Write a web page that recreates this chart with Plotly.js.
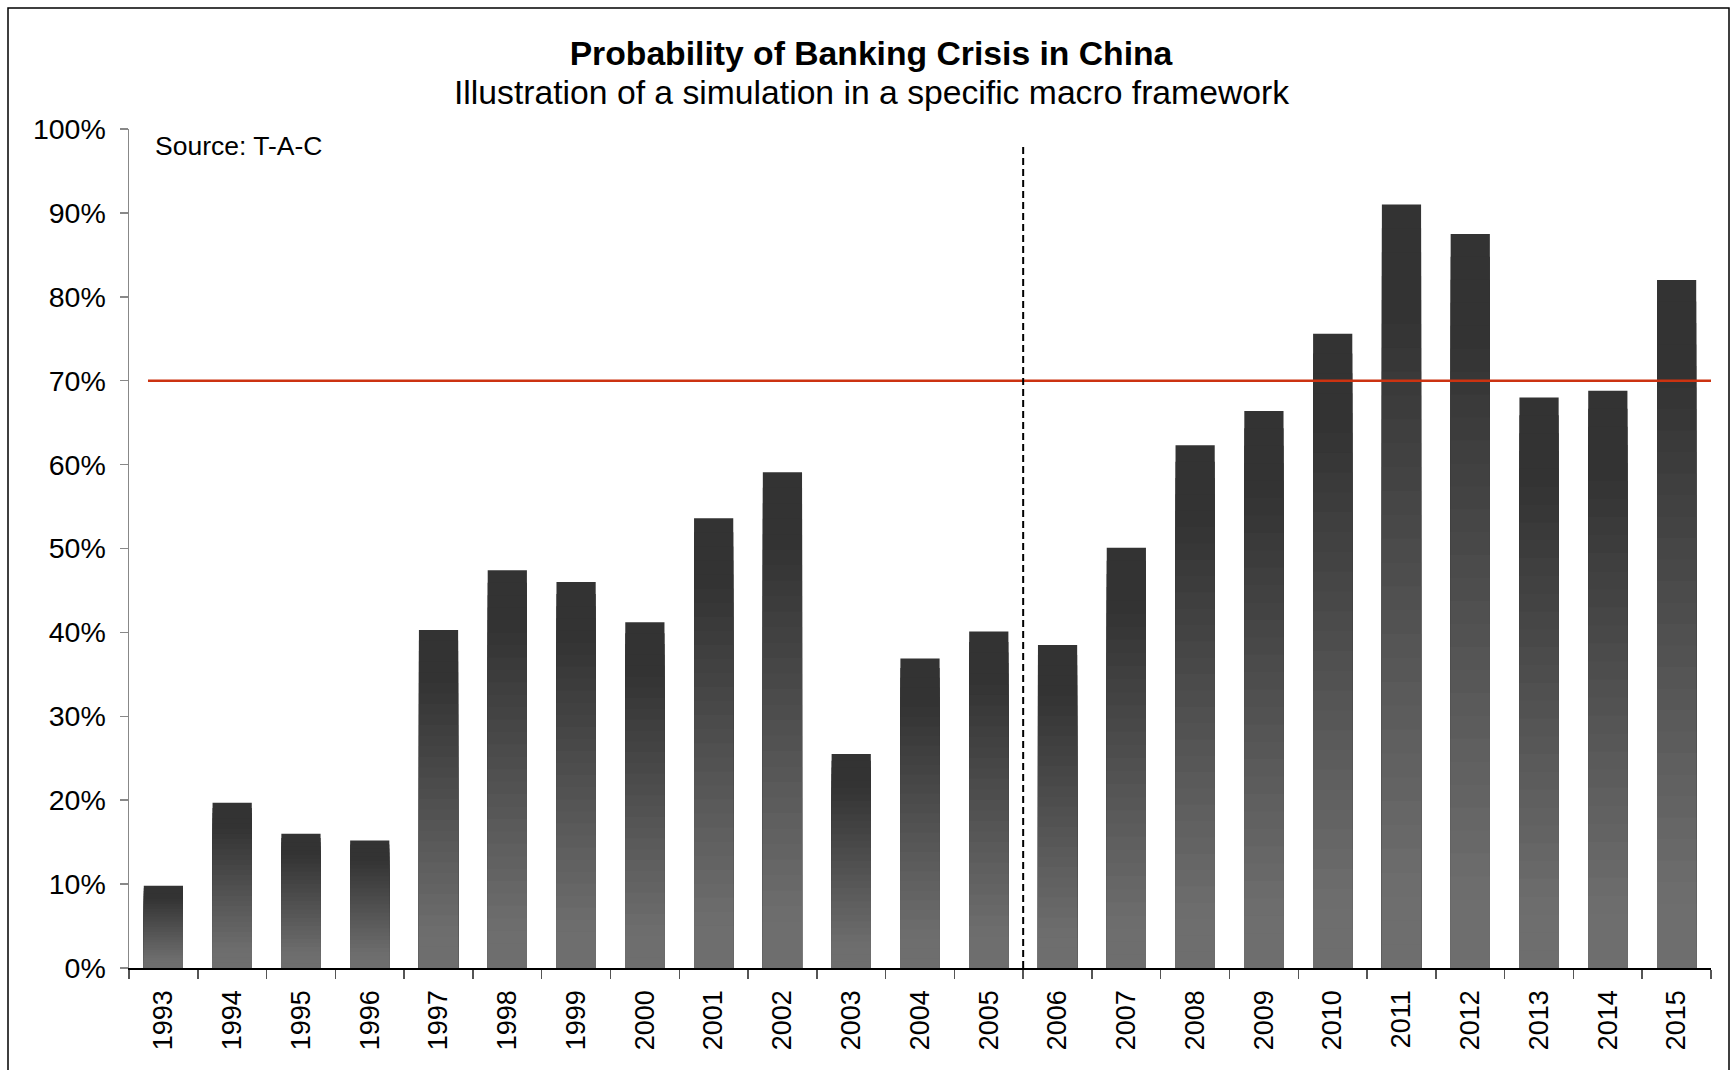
<!DOCTYPE html>
<html><head><meta charset="utf-8">
<script src="https://cdn.plot.ly/plotly-3.0.1.min.js"></script>
<style>html,body{margin:0;padding:0;background:#fff}</style>
</head><body><div id="chart" style="width:1732px;height:1070px"></div>
<script>
const years = ['1993','1994','1995','1996','1997','1998','1999','2000','2001','2002','2003','2004','2005','2006','2007','2008','2009','2010','2011','2012','2013','2014','2015'];
const probability = [0.098,0.197,0.160,0.152,0.403,0.474,0.460,0.412,0.536,0.591,0.255,0.369,0.401,0.385,0.501,0.623,0.664,0.756,0.910,0.875,0.680,0.688,0.820];
const threshold = 0.70;
const regimeBreak = 12.5; // between 2005 and 2006
const yTickVals = [0,0.1,0.2,0.3,0.4,0.5,0.6,0.7,0.8,0.9,1.0];
const yTickText = ['0%','10%','20%','30%','40%','50%','60%','70%','80%','90%','100%'];
const titleText = 'Probability of Banking Crisis in China';
const subtitleText = 'Illustration of a simulation in a specific macro framework';
const sourceText = 'Source: T-A-C';

const FONT = 'Liberation Sans, Arial, sans-serif';

// vertical gradient inside each bar: overlaid bar layers, dark at top, lighter toward the base
const N = 32;
function shade(f){
  let g;
  if (f < 0.15) g = 51; else if (f > 0.9) g = 110; else g = 51 + (f - 0.15) / 0.75 * 59;
  g = Math.round(g);
  return 'rgb(' + g + ',' + g + ',' + g + ')';
}
const traces = [];
for (let k = 0; k < N; k++) {
  const frac = 1 - k / N;
  traces.push({
    type: 'bar', x: years, y: probability.map(v => v * frac),
    width: 0.57,
    marker: {color: shade((k + 0.5) / N), line: {width: 0}},
    hoverinfo: k === 0 ? 'x+y' : 'skip',
    showlegend: false
  });
}

const layout = {
  width: 1732, height: 1070,
  paper_bgcolor: '#fff', plot_bgcolor: '#fff',
  margin: {l: 129, r: 21, t: 129, b: 102},
  barmode: 'overlay',
  font: {family: FONT, color: '#000'},
  title: {text: '<b>' + titleText + '</b>', font: {family: FONT, size: 33.7, color: '#000'},
          x: 871/1732, xref: 'container', xanchor: 'center', y: 1 - 53/1070, yref: 'container', yanchor: 'middle'},
  xaxis: {
    type: 'category', range: [-0.5, 22.5], tickson: 'boundaries',
    ticks: 'outside', ticklen: 9, tickwidth: 1.5, tickcolor: '#555',
    showline: true, linecolor: '#000', linewidth: 1.5, showgrid: false, zeroline: false,
    tickangle: -90, ticklabelstandoff: 10, tickfont: {family: FONT, size: 27, color: '#000'}
  },
  yaxis: {
    range: [0, 1], tickvals: yTickVals, ticktext: yTickText,
    ticks: 'outside', ticklen: 8, tickwidth: 1.5, tickcolor: '#888',
    showline: true, linecolor: '#888', linewidth: 1.5, showgrid: false, zeroline: false,
    ticklabelstandoff: 8, tickfont: {family: FONT, size: 28.5, color: '#000'}
  },
  annotations: [
    {text: subtitleText, xref: 'paper', yref: 'paper', x: (871-129)/1582, y: (968-92)/839,
     xanchor: 'center', yanchor: 'middle', showarrow: false, font: {family: FONT, size: 33.7, color: '#000'}},
    {text: sourceText, xref: 'paper', yref: 'paper', x: (153-129)/1582, y: (968-146)/839,
     xanchor: 'left', yanchor: 'middle', showarrow: false, font: {family: FONT, size: 26.5, color: '#000'}}
  ],
  shapes: [
    {type: 'line', xref: 'paper', yref: 'y', x0: 0.012, x1: 1.0, y0: threshold, y1: threshold,
     line: {color: '#CC3311', width: 2.5}, layer: 'above'},
    {type: 'line', xref: 'x', yref: 'y', x0: regimeBreak, x1: regimeBreak, y0: 0, y1: 0.983,
     line: {color: '#000', width: 2, dash: '7px,4px'}, layer: 'above'},
    {type: 'rect', xref: 'paper', yref: 'paper', x0: (8-129)/1582, x1: (1729-129)/1582,
     y0: (968-1080)/839, y1: (968-8)/839, line: {color: '#000', width: 1.5}, fillcolor: 'rgba(0,0,0,0)', layer: 'below'}
  ]
};

Plotly.newPlot('chart', traces, layout, {displayModeBar: false, staticPlot: true});
</script>
</body></html>
